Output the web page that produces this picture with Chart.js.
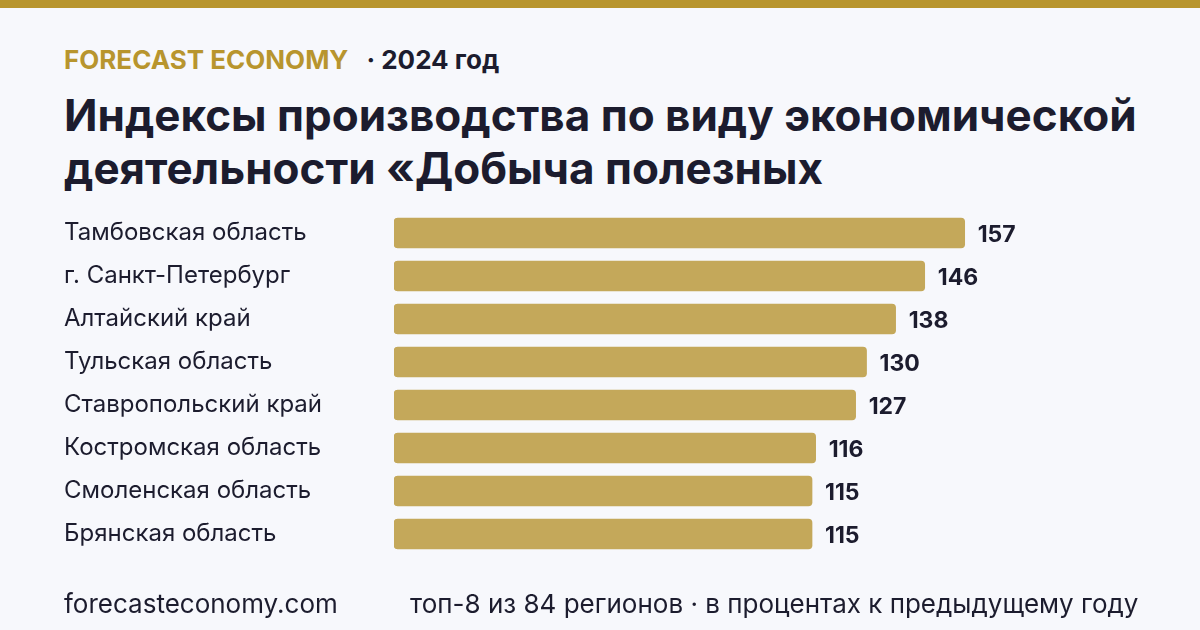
<!DOCTYPE html>
<html lang="ru">
<head>
<meta charset="utf-8">
<script src="https://cdn.jsdelivr.net/npm/chart.js@4.4.1/dist/chart.umd.min.js"></script>
<style>
  html, body { margin: 0; padding: 0; }
  body {
    width: 1200px; height: 630px; position: relative; overflow: hidden;
    background: #f7f8fc; font-family: Inter, "Noto Sans", sans-serif; color: #1c1c2e;
  }
  .topbar { position: absolute; left: 0; top: 0; width: 1200px; height: 8px; background: #b8952e; }
  .brand { position: absolute; left: 64px; top: 44px; font-size: 26px; font-weight: 700; white-space: nowrap; }
  .brand .name { color: #b8952e; }
  .brand .year { color: #1c1c2e; margin-left: 18px; }
  .title {
    position: absolute; left: 64px; top: 89px; width: 1120px;
    font-size: 44px; font-weight: 700; line-height: 53px; white-space: nowrap;
  }
  .foot { position: absolute; top: 588px; font-size: 26px; color: #1c1c2e; white-space: nowrap; }
  #chart { position: absolute; left: 0; top: 0; }
</style>
</head>
<body>
<div class="topbar"></div>
<div class="brand"><span class="name">FORECAST ECONOMY</span><span class="year">· 2024 год</span></div>
<div class="title">Индексы производства по виду экономической<br>деятельности «Добыча полезных</div>
<canvas id="chart" width="1200" height="630"></canvas>
<div class="foot" style="left:64px">forecasteconomy.com</div>
<div class="foot" style="left:410px">топ-8 из 84 регионов · в процентах к предыдущему году</div>
<script>
const regions = [
  'Тамбовская область',
  'г. Санкт-Петербург',
  'Алтайский край',
  'Тульская область',
  'Ставропольский край',
  'Костромская область',
  'Смоленская область',
  'Брянская область'
];
const indexValues = [157, 146, 138, 130, 127, 116, 115, 115];

const ink = '#1c1c2e';
const barColor = '#c4a85a';

// value labels at the end of each bar
const valueLabels = {
  id: 'valueLabels',
  afterDatasetsDraw(chart) {
    const ctx = chart.ctx;
    const meta = chart.getDatasetMeta(0);
    ctx.save();
    ctx.font = '700 23px Inter, "Noto Sans", sans-serif';
    ctx.fillStyle = ink;
    ctx.textBaseline = 'middle';
    ctx.textAlign = 'left';
    meta.data.forEach((bar, i) => {
      ctx.fillText(String(indexValues[i]), bar.x + 13, bar.y + 2);
    });
    ctx.restore();
  }
};

const ctx = document.getElementById('chart').getContext('2d');
new Chart(ctx, {
  type: 'bar',
  data: {
    labels: regions,
    datasets: [{
      data: indexValues,
      backgroundColor: barColor,
      borderRadius: 4,
      borderSkipped: false,
      barThickness: 30
    }]
  },
  options: {
    indexAxis: 'y',
    responsive: false,
    animation: false,
    layout: { padding: { left: 64, right: 79, top: 211.5, bottom: 74.5 } },
    plugins: { legend: { display: false }, tooltip: { enabled: false } },
    scales: {
      x: { display: false, min: 0, max: 200 },
      y: {
        grid: { display: false },
        border: { display: false },
        ticks: {
          color: ink,
          font: { family: 'Inter, "Noto Sans", sans-serif', size: 24 },
          crossAlign: 'far',
          padding: 0
        },
        afterFit(scale) { scale.width = 330; }
      }
    }
  },
  plugins: [valueLabels]
});
</script>
</body>
</html>
